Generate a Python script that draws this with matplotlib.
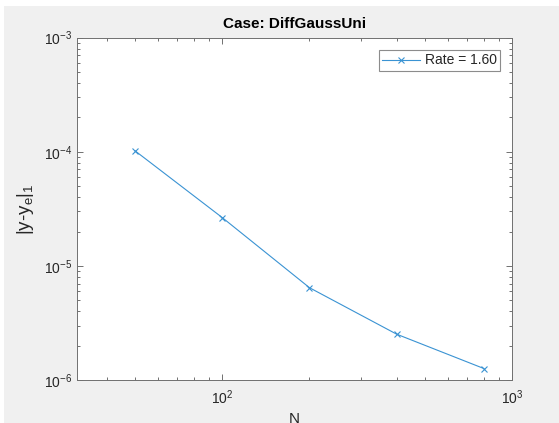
import matplotlib
matplotlib.use("Agg")
import matplotlib.pyplot as plt
from matplotlib.patches import Rectangle

# data
n_vals = [50, 100, 200, 400, 800]
err_vals = [1.02e-4, 2.65e-5, 6.44e-6, 2.52e-6, 1.26e-6]
rate_label = "Rate = 1.60"
case_name = "DiffGaussUni"

plt.rcParams['font.family'] = ['Liberation Sans', 'DejaVu Sans']
plt.rcParams['mathtext.fontset'] = 'custom'
plt.rcParams['mathtext.rm'] = 'Liberation Sans'
plt.rcParams['mathtext.it'] = 'Liberation Sans'
plt.rcParams['mathtext.default'] = 'regular'

W, H = 559, 423
fig = plt.figure(figsize=(W / 100, H / 100), dpi=100, facecolor='white')

# gray MATLAB figure background (screenshot is cropped a little at top/left)
fig.patches.append(Rectangle((4 / W, 0), 1, (H - 6) / H, transform=fig.transFigure,
                             facecolor='#f0f0f0', edgecolor='none', zorder=-10))

ax = fig.add_axes([77.4 / W, (H - 380) / H, (512 - 77.4) / W, (380 - 37.7) / H])
ax.set_facecolor('white')

ax.loglog(n_vals, err_vals, color='#3a93d3', lw=0.8, marker='x', ms=5, mew=0.8,
          label=rate_label)

ax.set_xlim(10 ** 1.5, 1000)
ax.set_ylim(1e-6, 1e-3)

axis_col = '#262626'
for s in ax.spines.values():
    s.set_color('#707070')
    s.set_linewidth(0.7)

ax.tick_params(which='both', direction='in', top=True, right=True,
               colors='#707070', labelcolor=axis_col, width=0.7, labelsize=10)
ax.tick_params(which='major', length=4.5)
ax.tick_params(which='minor', length=2.5)
ax.tick_params(axis='x', pad=6)

ax.set_title("Case: " + case_name, fontsize=11, fontweight='bold', color='black', pad=7)
ax.set_xlabel("N", fontsize=11, color=axis_col, labelpad=4)
ax.set_ylabel(r"|y-y$_e$|$_1$", fontsize=13.5, color=axis_col, labelpad=6)

leg = ax.legend(loc='upper right', bbox_to_anchor=(1 - 12 / 434.6, 1 - 12.3 / 342.3),
                borderaxespad=0, fancybox=False, fontsize=10, handlelength=2.7,
                borderpad=0.25, handletextpad=0.35)
leg.get_frame().set_edgecolor('#707070')
leg.get_frame().set_linewidth(0.8)
for t in leg.get_texts():
    t.set_color(axis_col)

fig.savefig("out.png", dpi=100, facecolor=fig.get_facecolor())
